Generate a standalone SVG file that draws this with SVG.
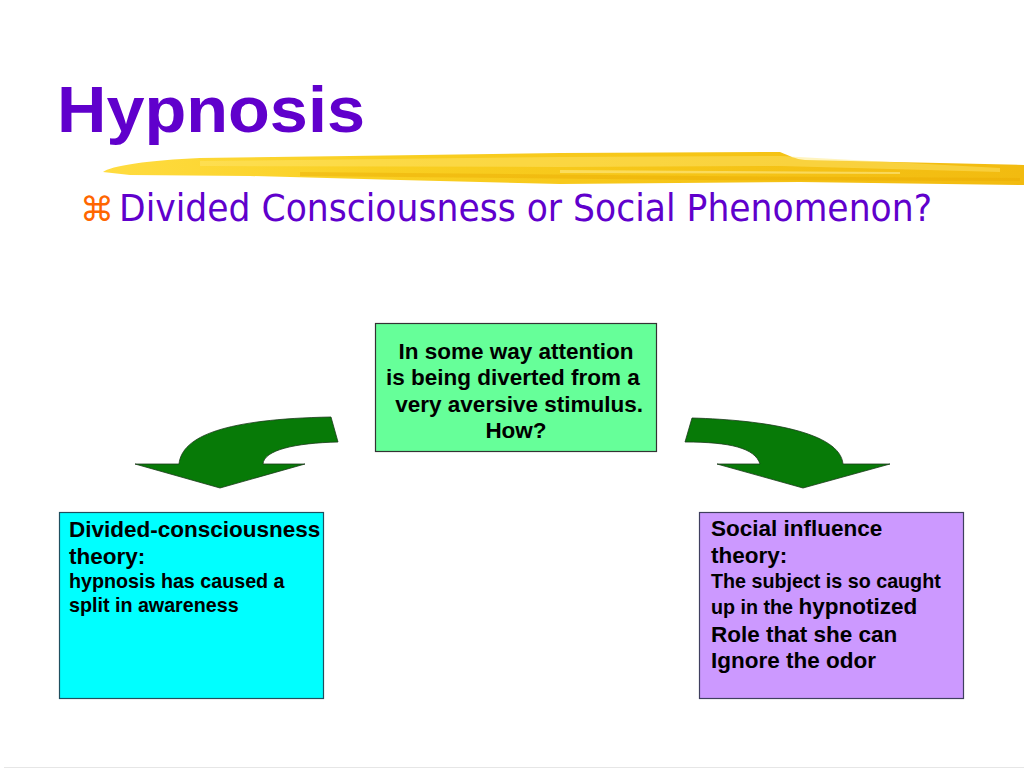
<svg xmlns="http://www.w3.org/2000/svg" width="1024" height="768" viewBox="0 0 1024 768">
<defs>
<linearGradient id="brush" x1="0" y1="0" x2="1" y2="0">
<stop offset="0" stop-color="#FFDC40"/>
<stop offset="0.3" stop-color="#F9CF22"/>
<stop offset="0.6" stop-color="#F6C618"/>
<stop offset="1" stop-color="#F2BB10"/>
</linearGradient>
<style>
.b{font-family:"Liberation Sans",Arial,sans-serif;font-weight:bold;fill:#000}
.big{font-size:22.5px}
.sm{font-size:19.7px}
.box{stroke-width:1.2}
.arrow{fill:#077A07;stroke:#1a3a1a;stroke-width:0.8}
</style>
</defs>
<rect width="1024" height="768" fill="#fff"/>
<g id="title">
<text x="57" y="132" font-family="Liberation Sans,Arial,sans-serif" font-weight="bold" font-size="64" fill="#6000CC" textLength="308" lengthAdjust="spacingAndGlyphs">Hypnosis</text>
</g>
<g id="brushstroke">
<path d="M103,172 C110,166 150,160 200,158 L350,156 L560,153 L780,152 C790,156 795,159 805,160 L1024,165 L1024,185 L800,182 L560,184 L400,180 L250,176 L130,175 Z" fill="url(#brush)"/>
<path d="M200,161 L560,157 L780,156 L1000,168 L1000,172 L780,166 L560,167 L200,166 Z" fill="#FFE770" opacity="0.45"/>
<path d="M300,172 L700,176 L1020,178 L1020,181 L700,180 L300,176 Z" fill="#E8A800" opacity="0.4"/>
<path d="M560,170 L900,172 L900,174 L560,173 Z" fill="#FFF2A0" opacity="0.5"/>
</g>
<g id="subtitle">
<text x="80" y="221" font-family="DejaVu Sans,sans-serif" font-size="34" fill="#FF6600">⌘</text>
<text x="119" y="221" font-family="DejaVu Sans Condensed,DejaVu Sans,sans-serif" font-size="36.5" fill="#6000CC" textLength="813" lengthAdjust="spacingAndGlyphs">Divided Consciousness or Social Phenomenon?</text>
</g>
<g id="center-node">
<rect class="box" x="375.5" y="323.5" width="281" height="128" fill="#66FF99" stroke="#333333"/>
<text class="b big" text-anchor="middle" x="516" y="359">In some way attention</text>
<text class="b big" text-anchor="middle" x="516" y="385" xml:space="preserve">is being diverted from a </text>
<text class="b big" text-anchor="middle" x="516" y="412" xml:space="preserve"> very aversive stimulus.</text>
<text class="b big" text-anchor="middle" x="516" y="438">How?</text>
</g>
<g id="left-node">
<rect class="box" x="59.5" y="512.5" width="264" height="186" fill="#00FFFF" stroke="#1f4f5f"/>
<text class="b big" x="69" y="537">Divided-consciousness</text>
<text class="b big" x="69" y="564">theory:</text>
<text class="b sm" x="69" y="588">hypnosis has caused a</text>
<text class="b sm" x="69" y="612">split in awareness</text>
</g>
<g id="right-node">
<rect class="box" x="699.5" y="512.5" width="264" height="186" fill="#CC99FF" stroke="#3f3f5f"/>
<text class="b big" x="711" y="536">Social influence</text>
<text class="b big" x="711" y="563">theory:</text>
<text class="b sm" x="711" y="588">The subject is so caught</text>
<text class="b" x="711" y="614"><tspan class="sm" xml:space="preserve">up in the </tspan><tspan class="big">hypnotized</tspan></text>
<text class="b big" x="711" y="642">Role that she can</text>
<text class="b big" x="711" y="668">Ignore the odor</text>
</g>
<g id="connectors">
<path class="arrow" d="M179,464 C182,436 225,419 331,417 L338,442 C295,443 264,450 263,464 L305,464 L220,488 L135,464 Z"/>
<path class="arrow" d="M692,418 C765,420 840,432 843,464 L890,464 L803,488 L717,464 L760,464 C755,448 730,442 685,442 Z"/>
</g>
<line x1="4" y1="767.5" x2="1024" y2="767.5" stroke="#e6e6e6" stroke-width="1"/>
</svg>
